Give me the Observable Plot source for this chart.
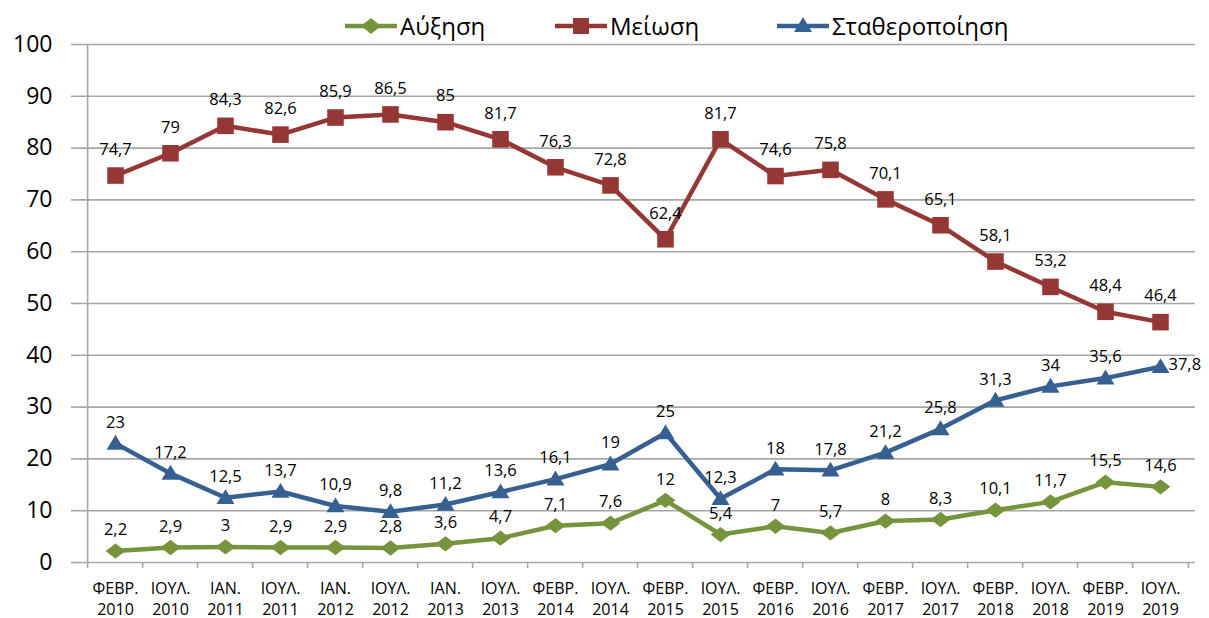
<!DOCTYPE html>
<html>
<head>
<meta charset="utf-8">
<script src="https://cdn.jsdelivr.net/npm/d3@7"></script>
<script src="https://cdn.jsdelivr.net/npm/@observablehq/plot@0.6"></script>
<style>
  html, body { margin: 0; padding: 0; background: #fff; }
  body { width: 1209px; height: 618px; overflow: hidden; font-family: "Open Sans", "DejaVu Sans", sans-serif; }
  #legend { position: relative; height: 30px; font-size: 24px; color: #000; }
  #legend .item { position: absolute; top: 12px; display: flex; align-items: center; line-height: 28px; white-space: nowrap; }
  #legend svg { display: block; margin-right: 3px; }
  #chart svg { display: block; }
</style>
</head>
<body>
<div id="legend"></div>
<div id="chart"></div>
<script>
const categories = ["ΦΕΒΡ. 2010", "ΙΟΥΛ. 2010", "ΙΑΝ. 2011", "ΙΟΥΛ. 2011", "ΙΑΝ. 2012", "ΙΟΥΛ. 2012", "ΙΑΝ. 2013", "ΙΟΥΛ. 2013", "ΦΕΒΡ. 2014", "ΙΟΥΛ. 2014", "ΦΕΒΡ. 2015", "ΙΟΥΛ. 2015", "ΦΕΒΡ. 2016", "ΙΟΥΛ. 2016", "ΦΕΒΡ. 2017", "ΙΟΥΛ. 2017", "ΦΕΒΡ. 2018", "ΙΟΥΛ. 2018", "ΦΕΒΡ. 2019", "ΙΟΥΛ. 2019"];
const seriesNames = ["Αύξηση", "Μείωση", "Σταθεροποίηση"];
const afxisi = [2.2, 2.9, 3, 2.9, 2.9, 2.8, 3.6, 4.7, 7.1, 7.6, 12, 5.4, 7, 5.7, 8, 8.3, 10.1, 11.7, 15.5, 14.6];
const meiosi = [74.7, 79, 84.3, 82.6, 85.9, 86.5, 85, 81.7, 76.3, 72.8, 62.4, 81.7, 74.6, 75.8, 70.1, 65.1, 58.1, 53.2, 48.4, 46.4];
const statheropoiisi = [23, 17.2, 12.5, 13.7, 10.9, 9.8, 11.2, 13.6, 16.1, 19, 25, 12.3, 18, 17.8, 21.2, 25.8, 31.3, 34, 35.6, 37.8];
const yTicks = [0, 10, 20, 30, 40, 50, 60, 70, 80, 90, 100];

const colors = ["#77933C", "#953735", "#376092"];
const seriesValues = [afxisi, meiosi, statheropoiisi];

// custom marker shapes (Excel-like)
const diamondSym = { draw(ctx, size) { const r = Math.sqrt(size / Math.PI); const w = 1.1 * r, h = 0.85 * r;
  ctx.moveTo(0, -h); ctx.lineTo(w, 0); ctx.lineTo(0, h); ctx.lineTo(-w, 0); ctx.closePath(); } };
const squareSym = { draw(ctx, size) { const r = Math.sqrt(size / Math.PI); const s = 0.92 * r;
  ctx.moveTo(-s, -s); ctx.lineTo(s, -s); ctx.lineTo(s, s); ctx.lineTo(-s, s); ctx.closePath(); } };
const triangleSym = { draw(ctx, size) { const r = Math.sqrt(size / Math.PI); const w = 1.0 * r;
  ctx.moveTo(0, -0.95 * r); ctx.lineTo(w, 0.7 * r); ctx.lineTo(-w, 0.7 * r); ctx.closePath(); } };
const symbols = [diamondSym, squareSym, triangleSym];
const radii = [9, 9, 9];

const rows = seriesNames.flatMap((s, i) => seriesValues[i].map((v, j) => ({ series: s, si: i, cat: categories[j], idx: j, value: v })));
const fmt = v => String(v).replace(".", ",");

const width = 1209, height = 588;
const marginLeft = 80, marginRight = 14, marginTop = 14, marginBottom = 56;
const step = (width - marginLeft - marginRight) / categories.length;
const gridColor = "#a6a6a6";

const isLastBlue = d => d.si === 2 && d.idx === categories.length - 1;

const marks = [
  Plot.ruleY(yTicks, { y: d => d, stroke: gridColor, strokeWidth: 1.6 }),
  Plot.ruleX([categories[0]], { x: d => d, dx: -step / 2, stroke: gridColor, strokeWidth: 1.6 }),
  Plot.axisY({ ticks: yTicks, tickSize: 9, tickPadding: 19, stroke: gridColor, strokeWidth: 1.6, fill: "#000", fontSize: 23, label: null }),
  Plot.axisX({ ticks: categories, tickSize: 6, tickFormat: () => "", dx: -step / 2, stroke: gridColor, strokeWidth: 1.6, label: null }),
  Plot.axisX({ ticks: [categories[categories.length - 1]], tickSize: 6, tickFormat: () => "", dx: step / 2, stroke: gridColor, strokeWidth: 1.6, label: null }),
  Plot.axisX({ ticks: categories, tickSize: 0, tickPadding: 17, fontSize: 16, lineHeight: 1.3, fill: "#000", tickFormat: d => d.replace(" ", "\n"), label: null })
];

seriesNames.forEach((s, i) => {
  const data = rows.filter(d => d.si === i);
  marks.push(Plot.line(data, { x: "cat", y: "value", stroke: colors[i], strokeWidth: 4.5, strokeLinejoin: "round" }));
  marks.push(Plot.dot(data, { x: "cat", y: "value", symbol: symbols[i], r: radii[i], fill: colors[i], stroke: "none" }));
});

seriesNames.forEach((s, i) => {
  const data = rows.filter(d => d.si === i && !isLastBlue(d));
  marks.push(Plot.text(data, { x: "cat", y: "value", text: d => fmt(d.value), dy: i === 1 ? -26 : -21, fontSize: 16.5, fill: "#000" }));
});
marks.push(Plot.text(rows.filter(isLastBlue), { x: "cat", y: "value", text: d => fmt(d.value), dx: 8, dy: -2, textAnchor: "start", fontSize: 16.5, fill: "#000" }));

const chart = Plot.plot({
  width, height, marginLeft, marginRight, marginTop, marginBottom,
  style: { background: "transparent", fontFamily: "'Open Sans', 'DejaVu Sans', sans-serif", color: "#000", overflow: "visible" },
  x: { type: "point", domain: categories, padding: 0.5, align: 0.5 },
  y: { domain: [0, 100] },
  marks
});
document.getElementById("chart").appendChild(chart);

// legend
const legend = document.getElementById("legend");
const legendLeft = [345, 555, 777];
const symPaths = [
  "M26,-8 L36,0 L26,8 L16,0 Z",
  "M18,-8 L34,-8 L34,8 L18,8 Z",
  "M26,-9 L35,6 L17,6 Z"
];
seriesNames.forEach((s, i) => {
  const item = document.createElement("div");
  item.className = "item";
  item.style.left = legendLeft[i] + "px";
  item.innerHTML = `<svg width="52" height="26" viewBox="0 -13 52 26"><line x1="0" x2="52" y1="0" y2="0" stroke="${colors[i]}" stroke-width="4.5"/><path d="${symPaths[i]}" fill="${colors[i]}"/></svg><span>${s}</span>`;
  legend.appendChild(item);
});
</script>
</body>
</html>
